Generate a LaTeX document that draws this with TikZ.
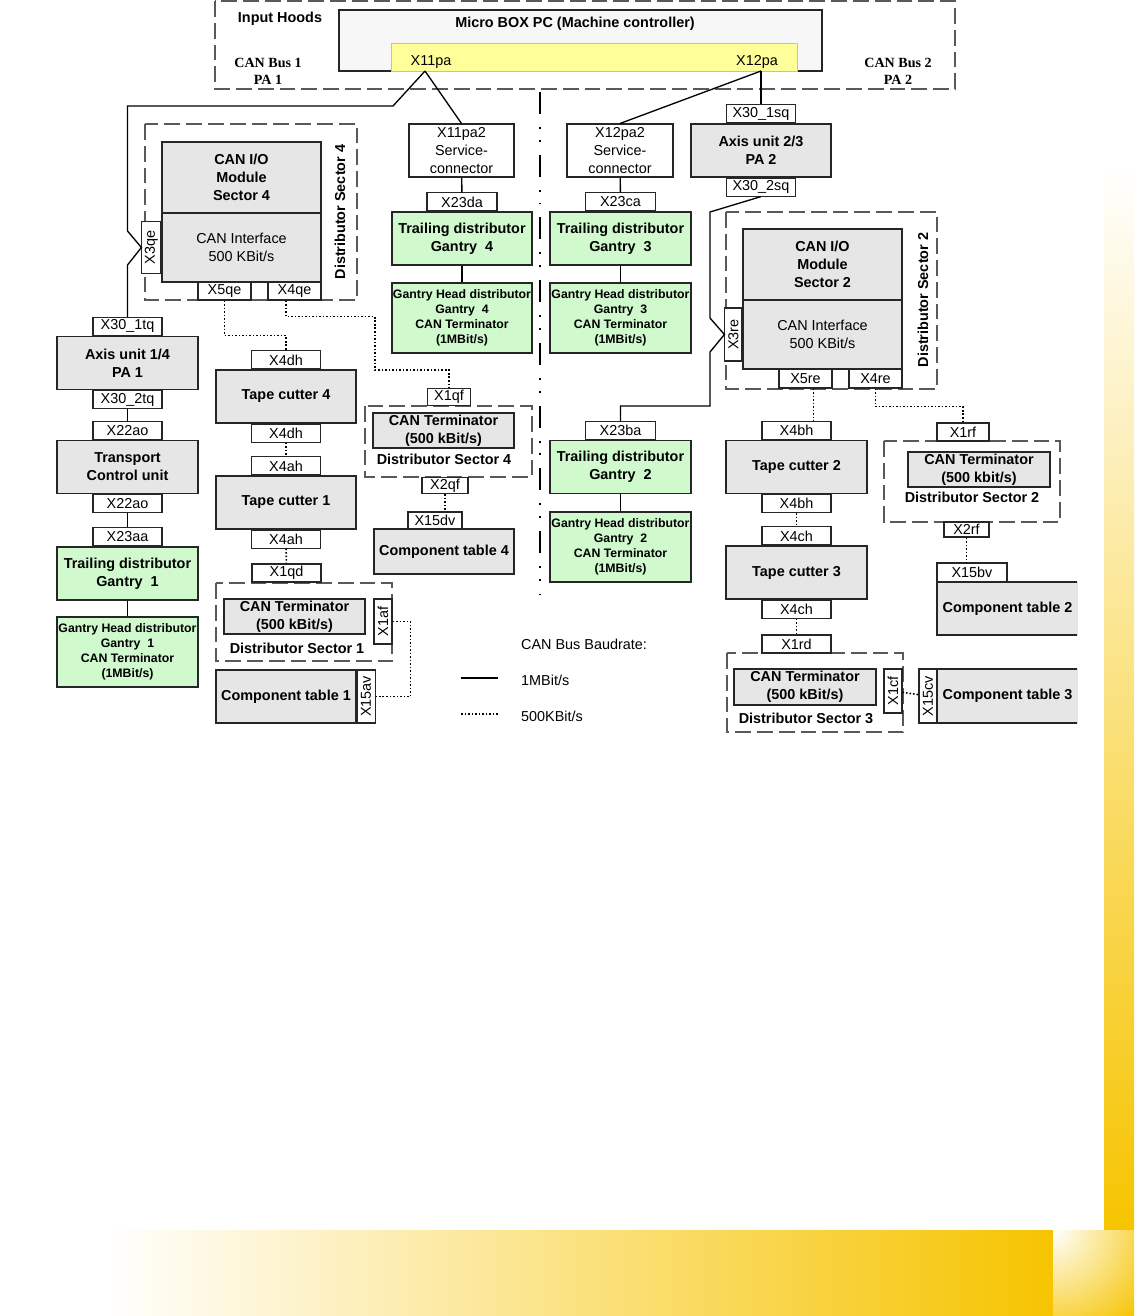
\documentclass[tikz,border=0pt]{standalone}
\usepackage{fontspec}
\setmainfont{Liberation Sans}
\newfontfamily\timesfont{Liberation Serif}
\usepackage{tikz}
\usetikzlibrary{positioning, calc}
\definecolor{boxgrey}{RGB}{230,230,230}
\definecolor{gantrygreen}{RGB}{208,250,206}
\definecolor{portyellow}{RGB}{255,255,153}
\definecolor{brandgold}{RGB}{246,196,0}
\newcommand{\pxl}{0.02cm}

\begin{document}
\begin{tikzpicture}[x=0.02cm, y=-0.02cm, font=\fontsize{8.2}{10}\selectfont,
    unit/.style={draw=black!85, line width=0.6pt, fill=boxgrey, inner sep=0pt, align=center,
      font=\fontsize{8.2}{10.2}\selectfont\bfseries, minimum width=141*\pxl, minimum height=53*\pxl},
    gantry/.style={unit, fill=gantrygreen},
    headbox/.style={gantry, minimum height=70*\pxl, font=\fontsize{7}{8.5}\selectfont\bfseries},
    term/.style={unit, minimum height=35*\pxl},
    ifbox/.style={unit, minimum width=159*\pxl},
    port/.style={draw=black!85, line width=0.6pt, fill=white, inner sep=0pt, align=center,
      minimum width=69*\pxl, minimum height=18*\pxl, font=\fontsize{8.2}{10}\selectfont},
    frame/.style={draw=black!65, line width=0.6pt, dash pattern=on 9pt off 3.4pt},
    bus/.style={line width=0.75pt},
    slowbus/.style={line width=0.9pt, dash pattern=on 0.9pt off 1.1pt},
    secname/.style={font=\fontsize{8.2}{10}\selectfont\bfseries},
    busname/.style={align=center, font=\timesfont\fontsize{8}{9.6}\selectfont\bfseries},
  ]
  \useasboundingbox (0,0) rectangle (1134,1316);
  % Page decoration
  \shade[top color=white, bottom color=brandgold] (1104,163) rectangle (1134,1230);
  \shade[left color=white, right color=brandgold] (105,1230) rectangle (1053,1316);
  \begin{scope}
    \clip (1053,1230) rectangle (1134,1316);
    \shade[inner color=white, outer color=brandgold] (1053,1230) circle (120);
  \end{scope}

  % Frames
  \draw[frame] (215,1) rectangle (955,89);
  \draw[frame] (145,124) rectangle (357,300);
  \draw[frame] (726,212) rectangle (937,389);
  \draw[frame] (216,583) rectangle (392,661);
  \draw[frame] (365,406) rectangle (532,477);
  \draw[frame] (727,653) rectangle (903,732);
  \draw[frame] (884,441) rectangle (1060,522);
  \draw[line width=1.4pt, dash pattern=on 12.5pt off 7.4pt on 1.1pt off 6.2pt on 1.1pt off 7.4pt]
    (540,92) -- (540,595);

  % Machine controller
  \node[secname] (hoods) at (280,19) {Input Hoods};
  \node[busname] (bus1) at (268,71) {CAN Bus 1\\PA 1};
  \node[busname] (bus2) at (898,71) {CAN Bus 2\\PA 2};
  \node[draw=black!85, line width=0.6pt, fill=black!3, minimum width=483*\pxl, minimum height=61*\pxl] (mbpc) at (580.5,40.5) {};
  \node[secname] (mbpctext) at (575,24) {Micro BOX PC (Machine controller)};
  \node[draw=black!25, fill=portyellow, minimum width=406*\pxl, minimum height=28*\pxl] (pabox) at (594,57) {};
  \node (x11pa) at (431,62) {X11pa};
  \node (x12pa) at (757,62) {X12pa};
  \coordinate (p11) at (425,71);
  \coordinate (p12) at (761,71);

  % Bus 1, left column
  \node[unit] (axisA) at (127.5,363) {Axis unit 1/4\\PA 1};
  \node[port, above=0pt of axisA] (x301tq) {X30\_1tq};
  \node[port, below=0pt of axisA] (x302tq) {X30\_2tq};
  \node[unit] (tcu) at (127.5,467) {Transport\\Control unit};
  \node[port, above=0pt of tcu] (x22aoA) {X22ao};
  \node[port, below=0pt of tcu] (x22aoB) {X22ao};
  \node[gantry] (trail1) at (127.5,573.5) {Trailing distributor\\Gantry\ \ 1};
  \node[port, above=0pt of trail1] (x23aa) {X23aa};
  \node[headbox] (head1) at (127.5,652) {Gantry Head distributor\\Gantry\ \ 1\\CAN Terminator\\(1MBit/s)};

  % Distributor sector 4
  \node[ifbox, minimum height=71*\pxl] (io4) at (241.5,177.5) {CAN I/O\\Module\\Sector 4};
  \node[ifbox, minimum height=69*\pxl, font=\fontsize{8.2}{10.2}\selectfont] (if4) at (241.5,247.5) {CAN Interface\\500 KBit/s};
  \node[port, minimum width=19*\pxl, minimum height=52*\pxl, left=0pt of if4] (x3qe) {\rotatebox{90}{X3qe}};
  \node[port, minimum width=53*\pxl] (x5qe) at (224.5,291) {X5qe};
  \node[port, minimum width=53*\pxl] (x4qe) at (294.5,291) {X4qe};
  \node[secname, rotate=90] (ds4) at (340,212) {Distributor Sector 4};

  % Tape cutters 4 and 1
  \node[unit, minimum width=140*\pxl] (tc4) at (286,396.5) {Tape cutter 4};
  \node[port, above=0pt of tc4] (x4dhA) {X4dh};
  \node[port, below=0pt of tc4] (x4dhB) {X4dh};
  \node[unit, minimum width=140*\pxl] (tc1) at (286,502.5) {Tape cutter 1};
  \node[port, above=0pt of tc1] (x4ahA) {X4ah};
  \node[port, below=0pt of tc1] (x4ahB) {X4ah};
  \node[port] (x1qd) at (286.5,573) {X1qd};
  \node[term] (term1) at (294.5,616.5) {CAN Terminator\\(500 kBit/s)};
  \node[secname] (ds1) at (297,648) {Distributor Sector 1};
  \node[port, minimum width=18*\pxl, minimum height=45*\pxl] (x1af) at (383,621.5) {\rotatebox{90}{X1af}};
  \node[unit, minimum width=140*\pxl] (ct1) at (286,696.5) {Component table 1};
  \node[port, minimum width=18*\pxl, minimum height=53*\pxl, right=0pt of ct1] (x15av) {\rotatebox{90}{X15av}};

  % Service connector 1, gantry 4
  \node[port, minimum width=105*\pxl, minimum height=53*\pxl] (svc1) at (461.5,150.5) {X11pa2\\Service-\\connector};
  \node[gantry, minimum width=140*\pxl] (trail4) at (462,238.5) {Trailing distributor\\Gantry\ \ 4};
  \node[port, minimum width=70*\pxl, above=0pt of trail4] (x23da) {X23da};
  \node[headbox, minimum width=140*\pxl] (head4) at (462,318) {Gantry Head distributor\\Gantry\ \ 4\\CAN Terminator\\(1MBit/s)};
  \node[port, minimum width=43*\pxl, minimum height=17*\pxl] (x1qf) at (449,397) {X1qf};
  \node[term] (term4) at (443.5,430.5) {CAN Terminator\\(500 kBit/s)};
  \node[secname] (ds4b) at (444,459) {Distributor Sector 4};
  \node[port, minimum width=46*\pxl, minimum height=16*\pxl] (x2qf) at (445,485.5) {X2qf};
  \node[port, minimum width=54*\pxl, minimum height=17*\pxl] (x15dv) at (435,520.5) {X15dv};
  \node[unit, minimum width=140*\pxl, minimum height=45*\pxl] (ct4) at (444,551.5) {Component table 4};

  % Service connector 2, gantries 3 and 2
  \node[port, minimum width=106*\pxl, minimum height=53*\pxl] (svc2) at (620,150.5) {X12pa2\\Service-\\connector};
  \node[gantry] (trail3) at (620.5,238.5) {Trailing distributor\\Gantry\ \ 3};
  \node[port, minimum width=70*\pxl, above=0pt of trail3] (x23ca) {X23ca};
  \node[headbox] (head3) at (620.5,318) {Gantry Head distributor\\Gantry\ \ 3\\CAN Terminator\\(1MBit/s)};
  \node[gantry] (trail2) at (620.5,467) {Trailing distributor\\Gantry\ \ 2};
  \node[port, minimum width=70*\pxl, above=0pt of trail2] (x23ba) {X23ba};
  \node[headbox] (head2) at (620.5,547) {Gantry Head distributor\\Gantry\ \ 2\\CAN Terminator\\(1MBit/s)};

  % Bus 2, axis unit and distributor sector 2
  \node[unit, minimum width=140*\pxl] (axisB) at (761,150.5) {Axis unit 2/3\\PA 2};
  \node[port, above=0pt of axisB] (x301sq) {X30\_1sq};
  \node[port, below=0pt of axisB] (x302sq) {X30\_2sq};
  \node[ifbox, minimum height=71*\pxl] (io2) at (822.5,264.5) {CAN I/O\\Module\\Sector 2};
  \node[ifbox, minimum height=69*\pxl, font=\fontsize{8.2}{10.2}\selectfont] (if2) at (822.5,334.5) {CAN Interface\\500 KBit/s};
  \node[port, minimum width=17*\pxl, minimum height=53*\pxl, left=0pt of if2] (x3re) {\rotatebox{90}{X3re}};
  \node[port, minimum width=53*\pxl, minimum height=19*\pxl] (x5re) at (805.5,378.5) {X5re};
  \node[port, minimum width=53*\pxl, minimum height=19*\pxl] (x4re) at (875.5,378.5) {X4re};
  \node[secname, rotate=90] (ds2) at (923,300) {Distributor Sector 2};

  % Tape cutters 2 and 3
  \node[unit] (tc2) at (796.5,467) {Tape cutter 2};
  \node[port, above=0pt of tc2] (x4bhA) {X4bh};
  \node[port, below=0pt of tc2] (x4bhB) {X4bh};
  \node[unit] (tc3) at (796.5,572.5) {Tape cutter 3};
  \node[port, above=0pt of tc3] (x4chA) {X4ch};
  \node[port, below=0pt of tc3] (x4chB) {X4ch};
  \node[port] (x1rd) at (796.5,644) {X1rd};
  \node[term, minimum width=142*\pxl, minimum height=36*\pxl] (term3) at (805,687) {CAN Terminator\\(500 kBit/s)};
  \node[secname] (ds3) at (806,718) {Distributor Sector 3};
  \node[port, minimum width=18*\pxl, minimum height=44*\pxl] (x1cf) at (893,691) {\rotatebox{90}{X1cf}};
  \node[port, minimum width=18*\pxl, minimum height=54*\pxl] (x15cv) at (928,696) {\rotatebox{90}{X15cv}};

  % Terminator sector 2
  \node[port, minimum width=52*\pxl] (x1rf) at (963,432) {X1rf};
  \node[term, minimum width=142*\pxl] (term2) at (979,469.5) {CAN Terminator\\(500 kbit/s)};
  \node[secname] (ds2b) at (972,497) {Distributor Sector 2};
  \node[port, minimum width=45*\pxl, minimum height=15*\pxl] (x2rf) at (966.5,529.5) {X2rf};
  \node[port, minimum width=70*\pxl, minimum height=19*\pxl] (x15bv) at (972,572.5) {X15bv};
  \begin{scope}
    \clip (0,0) rectangle (1077,1316);
    \node[unit] (ct2) at (1007.5,608.5) {Component table 2};
    \node[unit, minimum height=54*\pxl] (ct3) at (1007.5,696) {Component table 3};
  \end{scope}

  % 1 MBit/s connections
  \draw[bus] (p11) -- (393,106) -- (127.5,106) -- (127.5,231) -- (x3qe.west) -- (127.5,265) -- (x301tq.north);
  \draw[bus] (p11) -- (svc1.north);
  \draw[bus] (p12) -- (svc2.north);
  \draw[bus] (p12) -- (x301sq.north);
  \draw[bus] (x302sq.south) -- (710,212) -- (710,318) -- (x3re.west) -- (710,352) -- (710,406) -| (x23ba.north);
  \draw[bus] (x302tq) -- (x22aoA);
  \draw[bus] (x22aoB) -- (x23aa);
  \draw[bus] (trail1) -- (head1);
  \draw[bus] (svc1) -- (x23da);
  \draw[bus] (trail4) -- (head4);
  \draw[bus] (svc2) -- (x23ca);
  \draw[bus] (trail3) -- (head3);
  \draw[bus] (trail2) -- (head2);

  % 500 KBit/s connections
  \draw[slowbus] (x5qe.south) -- ++(0,35) -| (x4dhA.north);
  \draw[slowbus] (x4qe.south -| x4dhA.north) -- ++(0,16) -| (375,370) -| (x1qf.north);
  \draw[slowbus] (x4dhB) -- (x4ahA);
  \draw[slowbus] (x4ahB) -- (x1qd);
  \draw[slowbus] (x1af.east) -- ++(18,0) |- (x15av.east);
  \draw[slowbus] (x2qf.south) -- (x2qf.south |- x15dv.north);
  \coordinate (d5re) at ($(x5re.south)+(8,0)$);
  \draw[slowbus] (d5re) -- (d5re |- x4bhA.north);
  \draw[slowbus] (x4re.south) -- ++(0,18) -| (x1rf.north);
  \draw[slowbus] (x4bhB) -- (x4chA);
  \draw[slowbus] (x4chB) -- (x1rd);
  \draw[slowbus] (x2rf.south) -- (x2rf.south |- x15bv.north);
  \draw[slowbus] (x1cf) -- (x15cv);

  % Legend
  \node[anchor=west] (lgtitle) at (515,644) {CAN Bus Baudrate:};
  \node[anchor=west] (lgfast) at (515,680) {1MBit/s};
  \node[anchor=west] (lgslow) at (515,716) {500KBit/s};
  \draw[bus] (461,678) -- (498,678);
  \draw[slowbus] (461,714) -- (498,714);
\end{tikzpicture}
\end{document}
